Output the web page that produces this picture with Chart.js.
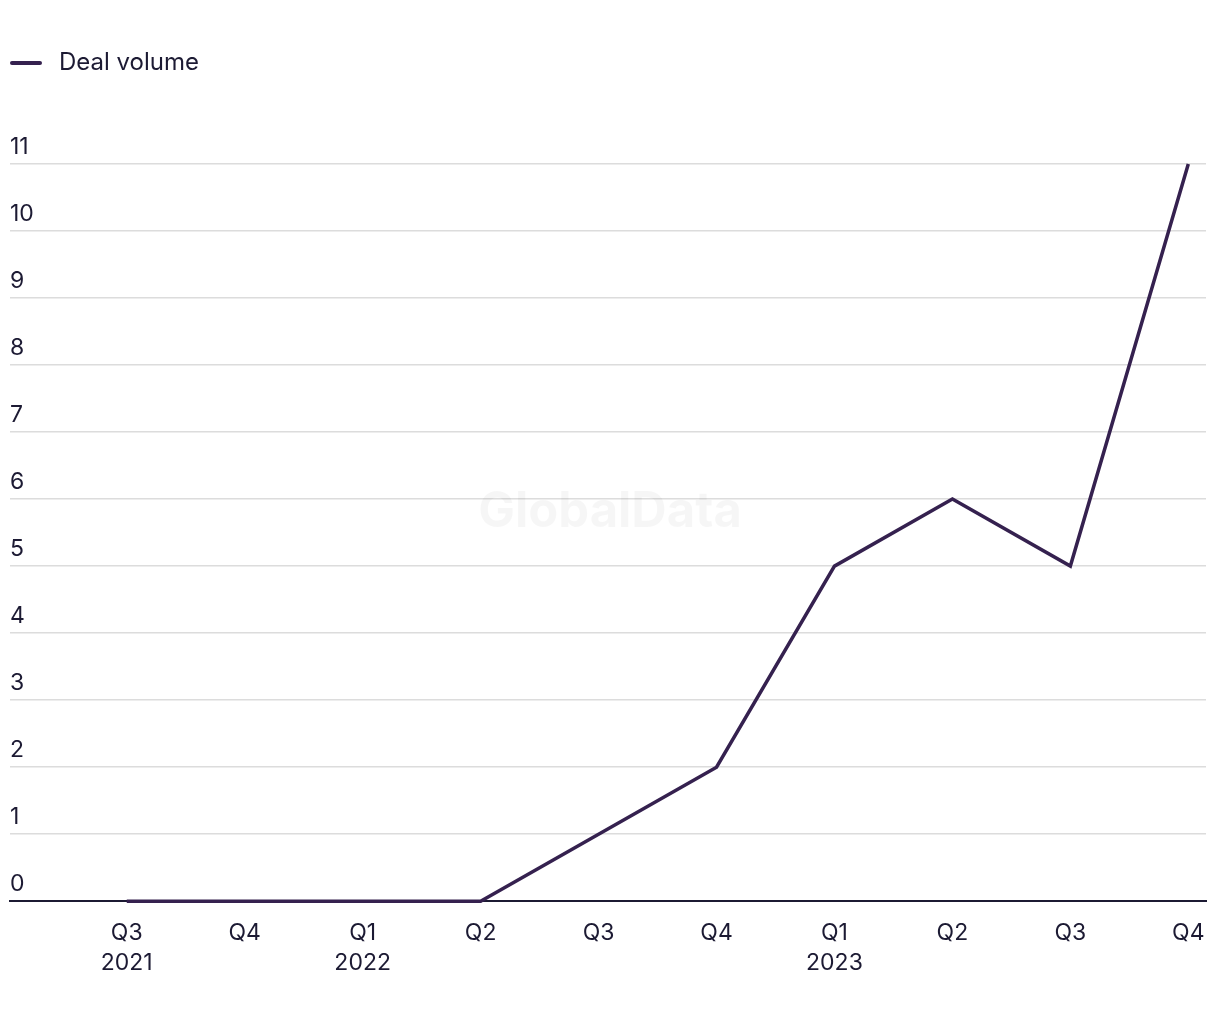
<!DOCTYPE html>
<html>
<head>
<meta charset="utf-8">
<script src="https://cdn.jsdelivr.net/npm/chart.js@4/dist/chart.umd.min.js"></script>
<style>
html,body{margin:0;padding:0;background:#fff;}
#wrap{width:1220px;height:1020px;position:relative;}
</style>
</head>
<body>
<div id="wrap"><canvas id="c"></canvas></div>
<script>
const quarters = ["Q3", "Q4", "Q1", "Q2", "Q3", "Q4", "Q1", "Q2", "Q3", "Q4"];
const years = ["2021", "", "2022", "", "", "", "2023", "", "", ""];
const dealVolume = [0, 0, 0, 0, 1, 2, 5, 6, 5, 11];
const seriesName = "Deal volume";

const TEXT = "#1c1a33";
const LINE = "#35214f";
const FONT = "Inter, 'Noto Sans', sans-serif";

// legend marker: a short line with some trailing space before the text
const marker = document.createElement("canvas");
marker.width = 37;
marker.height = 6;
(function () {
  const m = marker.getContext("2d");
  m.strokeStyle = LINE;
  m.lineWidth = 4;
  m.lineCap = "round";
  m.beginPath();
  m.moveTo(2, 3);
  m.lineTo(30, 3);
  m.stroke();
})();

const watermark = {
  id: "watermark",
  beforeDatasetsDraw(chart) {
    const ctx = chart.ctx;
    ctx.save();
    ctx.font = "bold 49px " + FONT;
    ctx.fillStyle = "rgba(0,0,0,0.035)";
    ctx.textAlign = "center";
    ctx.textBaseline = "middle";
    ctx.fillText("GlobalData", 610, 512);
    ctx.restore();
  }
};

const legendSpace = {
  id: "legendSpace",
  beforeInit(chart) {
    const orig = chart.legend.fit;
    chart.legend.fit = function () {
      orig.call(this);
      this.height += 79;
    };
  }
};

new Chart(document.getElementById("c"), {
  type: "line",
  data: {
    datasets: [{
      label: seriesName,
      data: dealVolume.map((v, i) => ({ x: i, y: v })),
      borderColor: LINE,
      backgroundColor: LINE,
      borderWidth: 3.5,
      pointRadius: 0,
      pointHoverRadius: 0,
      tension: 0,
      fill: false,
      clip: false
    }]
  },
  options: {
    responsive: true,
    maintainAspectRatio: false,
    animation: false,
    layout: { padding: { left: 10, right: 14, top: 51, bottom: 25 } },
    plugins: {
      tooltip: { enabled: false },
      legend: {
        position: "top",
        align: "start",
        labels: {
          usePointStyle: true,
          pointStyleWidth: 37,
          color: TEXT,
          font: { family: FONT, size: 24 },
          padding: 0,
          generateLabels(chart) {
            return [{
              text: seriesName,
              strokeStyle: LINE,
              fillStyle: LINE,
              lineWidth: 0,
              pointStyle: marker,
              fontColor: TEXT,
              hidden: false,
              datasetIndex: 0
            }];
          }
        }
      }
    },
    scales: {
      x: {
        type: "linear",
        min: -0.99,
        max: 9.15,
        afterBuildTicks(axis) {
          axis.ticks = quarters.map((_, i) => ({ value: i }));
        },
        afterFit(axis) {
          axis.paddingRight = 0;
          axis.paddingLeft = 0;
        },
        grid: { display: false, drawTicks: false },
        border: { display: true, color: TEXT, width: 2 },
        ticks: {
          autoSkip: false,
          maxRotation: 0,
          padding: 17,
          color: TEXT,
          font: { family: FONT, size: 23, lineHeight: 1.3 },
          callback(value) {
            const i = Math.round(value);
            return years[i] ? [quarters[i], years[i]] : quarters[i];
          }
        }
      },
      y: {
        min: 0,
        max: 11,
        grid: {
          drawTicks: false,
          color: ctx => ctx.tick && ctx.tick.value === 0 ? TEXT : "#dcdcdc",
          lineWidth: ctx => ctx.tick && ctx.tick.value === 0 ? 2 : 1.5
        },
        border: { display: false },
        ticks: {
          stepSize: 1,
          mirror: true,
          padding: 0,
          labelOffset: -17,
          color: TEXT,
          font: { family: FONT, size: 23 }
        }
      }
    }
  },
  plugins: [watermark, legendSpace]
});
</script>
</body>
</html>
